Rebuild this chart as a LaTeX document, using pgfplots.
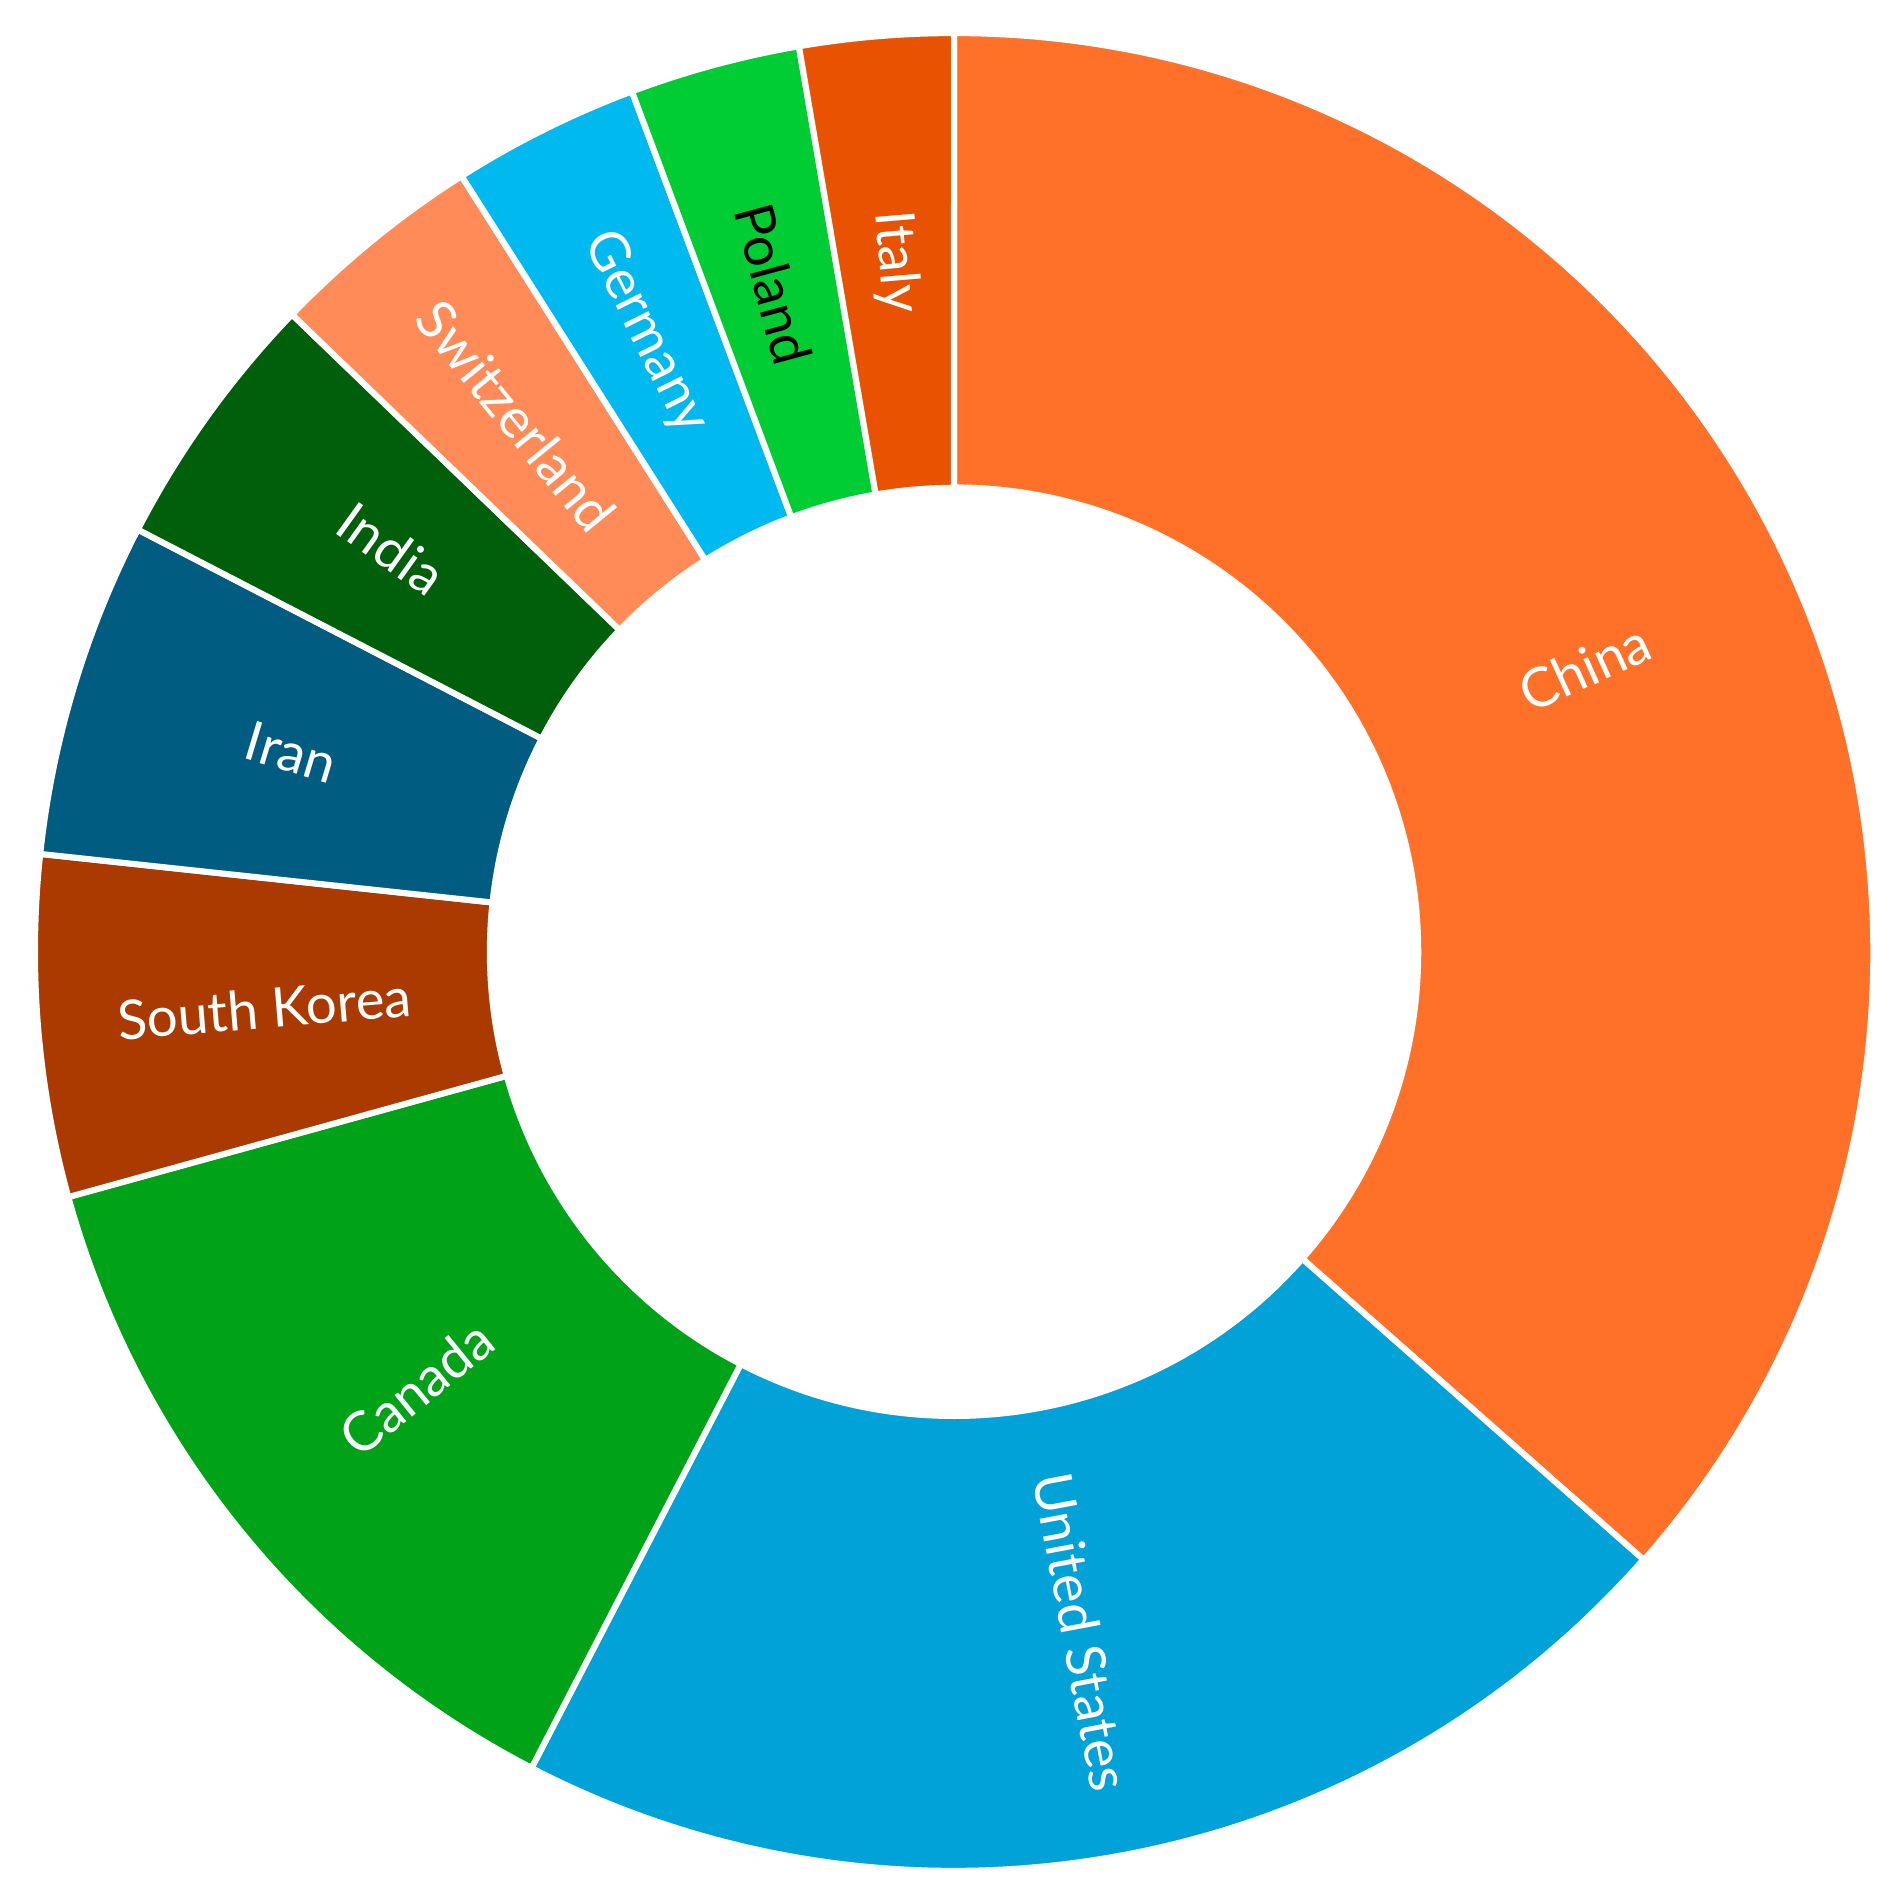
\documentclass[border=0pt]{standalone}
\usepackage{pgfplots}
\pgfplotsset{compat=1.18}
\usepackage{pgfplotstable}
\usepackage{fontspec}
\setmainfont{Lato}
\definecolor{cChina}{HTML}{FF7029}
\definecolor{cUS}{HTML}{00A2D8}
\definecolor{cCanada}{HTML}{00A318}
\definecolor{cKorea}{HTML}{AA3A00}
\definecolor{cIran}{HTML}{005C80}
\definecolor{cIndia}{HTML}{005F0A}
\definecolor{cSwiss}{HTML}{FF8B58}
\definecolor{cGermany}{HTML}{00BAEF}
\definecolor{cPoland}{HTML}{00CC33}
\definecolor{cItaly}{HTML}{E85200}

% share of each country, percent, clockwise from the top
\pgfplotstableread[col sep=comma]{
name,value,col,txt
China,36.5,cChina,white
United States,21.1,cUS,white
Canada,13.1,cCanada,white
South Korea,6.0,cKorea,white
Iran,5.9,cIran,white
India,4.6,cIndia,white
Switzerland,3.8,cSwiss,white
Germany,3.3,cGermany,white
Poland,3.0,cPoland,black
Italy,2.7,cItaly,white
}\shares

\begin{document}
\begin{tikzpicture}[font=\fontsize{9.8}{12}\selectfont]
\begin{axis}[
    hide axis,
    scale only axis,
    width=11.98cm, height=12cm,
    xmin=-1.038, xmax=1.028,
    ymin=-1.034, ymax=1.036,
    clip=false
]
% invisible corners, so the limits hold
\addplot[draw=none, forget plot] coordinates {(-1.038,-1.034) (1.028,1.036)};
\pgfplotstablegetrowsof{\shares}
\pgfmathtruncatemacro\lastrow{\pgfplotsretval-1}
\def\cum{0}
\def\ri{0.505}
\pgfplotsforeachungrouped \i in {0,...,\lastrow}{
    \pgfplotstablegetelem{\i}{value}\of\shares \let\v\pgfplotsretval
    \pgfplotstablegetelem{\i}{col}\of\shares \let\c\pgfplotsretval
    \pgfplotstablegetelem{\i}{txt}\of\shares \let\tc\pgfplotsretval
    \pgfplotstablegetelem{\i}{name}\of\shares \let\nm\pgfplotsretval
    \pgfmathsetmacro\a{90-\cum*3.6}
    \pgfmathsetmacro\b{90-(\cum+\v)*3.6}
    \pgfmathsetmacro\m{90-(\cum+\v/2)*3.6}
    \pgfmathsetmacro\rot{ifthenelse(\m<-90,\m+180,\m)}
    \pgfmathsetmacro\xa{cos(\a)}
    \pgfmathsetmacro\ya{sin(\a)}
    \pgfmathsetmacro\xb{\ri*cos(\b)}
    \pgfmathsetmacro\yb{\ri*sin(\b)}
    \pgfmathsetmacro\xm{0.753*cos(\m)}
    \pgfmathsetmacro\ym{0.753*sin(\m)}
    \pgfmathsetmacro\rr{\ri*5.8}
    \edef\temp{%
      \noexpand\fill[fill=\c, draw=white, line width=1.1pt, line join=miter]
        (axis cs:\xa,\ya) arc[start angle=\a, end angle=\b, radius=5.8cm]
        -- (axis cs:\xb,\yb) arc[start angle=\b, end angle=\a, radius=\rr cm] -- cycle;
      \noexpand\node[text=\tc, rotate=\rot] at (axis cs:\xm,\ym) {\nm};
    }\temp
    \pgfmathsetmacro\cum{\cum+\v}
}
\end{axis}
\pgfresetboundingbox
\useasboundingbox (current axis.south west) rectangle (current axis.north east);
\end{tikzpicture}
\end{document}
